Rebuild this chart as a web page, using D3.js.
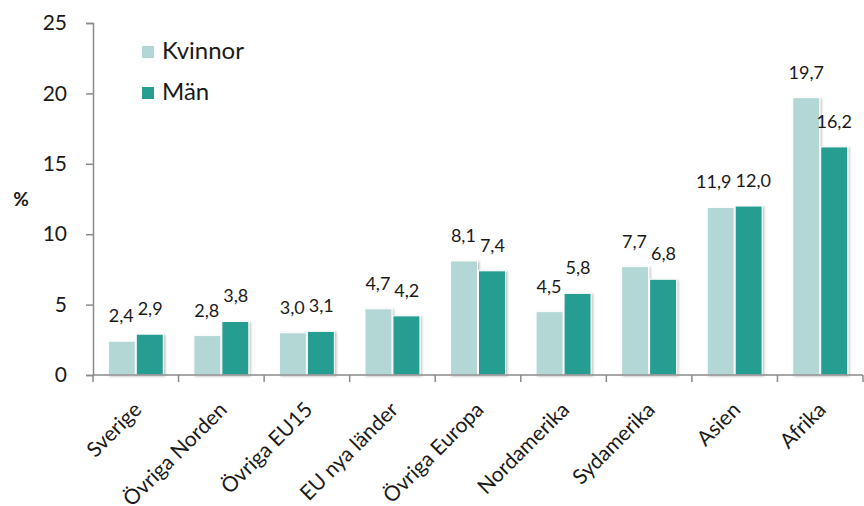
<!DOCTYPE html>
<html><head><meta charset="utf-8">
<script src="https://cdn.jsdelivr.net/npm/d3@7"></script>
<style>body{margin:0;background:#fff}svg{display:block}text{font-family:Lato,"Open Sans",sans-serif;fill:#1a1a1a}</style>
</head><body><svg id="c" width="864" height="506"></svg>
<script>
const categories = ["Sverige","Övriga Norden","Övriga EU15","EU nya länder","Övriga Europa","Nordamerika","Sydamerika","Asien","Afrika"];
const series = ["Kvinnor","Män"];
const kvinnor = [2.4,2.8,3.0,4.7,8.1,4.5,7.7,11.9,19.7];
const man = [2.9,3.8,3.1,4.2,7.4,5.8,6.8,12.0,16.2];
const yTicks = [0,5,10,15,20,25];
const colors = ["#b3d7d4","#289d91"];

const svg = d3.select("#c");
const defs = svg.append("defs");
const f = defs.append("filter").attr("id","sh").attr("x","-20%").attr("y","-20%").attr("width","150%").attr("height","150%");
f.append("feDropShadow").attr("dx",1.5).attr("dy",1).attr("stdDeviation",1.2).attr("flood-color","#000").attr("flood-opacity",0.25);

const x0 = d3.scaleBand().domain(categories).range([93,863]).paddingInner(0).paddingOuter(0);
const bw = x0.bandwidth();
const x1 = d3.scaleBand().domain(series).range([bw*0.173, bw*0.827]).padding(0);
const y = d3.scaleLinear().domain([0,25]).range([375,23]);
const data = [kvinnor, man];
const fmt = v => d3.format(".1f")(v).replace(".", ",");

const labelSel = [];
// bars
series.forEach((s, si) => {
  const g = svg.append("g");
  g.selectAll("rect").data(categories).enter().append("rect")
    .attr("x", c => x0(c) + x1(s) + 0.5)
    .attr("y", (c, i) => y(data[si][i]))
    .attr("width", x1.bandwidth() - 1)
    .attr("height", (c, i) => y(0) - y(data[si][i]))
    .attr("fill", colors[si])
    .attr("stroke", "#fff").attr("stroke-width", 1)
    .attr("filter", "url(#sh)");
  labelSel.push(g.selectAll("text").data(categories).enter().append("text")
    .attr("x", c => x0(c) + x1(s) + x1.bandwidth()/2)
    .attr("y", (c, i) => y(data[si][i]) - 19)
    .attr("text-anchor", "middle")
    .style("font-size", "18px")
    .text((c, i) => fmt(data[si][i])));
});
// nudge apart value labels that would collide
const kn = labelSel[0].nodes(), mn = labelSel[1].nodes();
categories.forEach((c, i) => {
  const a = kn[i].getBBox(), b = mn[i].getBBox();
  const vOverlap = a.y < b.y + b.height && b.y < a.y + a.height;
  const over = a.x + a.width + 4 - b.x;
  if (vOverlap && over > 0) {
    d3.select(kn[i]).attr("x", +kn[i].getAttribute("x") - over * 0.6);
    d3.select(mn[i]).attr("x", +mn[i].getAttribute("x") + over * 0.4);
  }
});

// y axis
const ya = svg.append("g").attr("transform","translate(93,0)")
  .call(d3.axisLeft(y).tickValues(yTicks).tickSize(7).tickPadding(19).tickFormat(d3.format("d")));
ya.select(".domain").attr("stroke","#8a8a8a").attr("stroke-width",1.5);
ya.selectAll(".tick line").attr("stroke","#8a8a8a").attr("stroke-width",1.5);
ya.selectAll(".tick text").style("font-size","21px").style("font-family","Lato,sans-serif").attr("fill","#1a1a1a");

// x axis
const xa = svg.append("g").attr("transform","translate(0,375)");
xa.append("line").attr("x1",93).attr("x2",863).attr("stroke","#8a8a8a").attr("stroke-width",1.5);
const bounds = categories.map(c => x0(c)).concat([x0(categories[categories.length-1]) + bw]);
xa.selectAll("line.t").data(bounds).enter().append("line").attr("class","t")
  .attr("x1", d => d).attr("x2", d => d).attr("y1",0).attr("y2",7)
  .attr("stroke","#8a8a8a").attr("stroke-width",1.5);
svg.append("g").selectAll("text").data(categories).enter().append("text")
  .attr("transform", c => `translate(${x0(c) + bw/2 + 7},${411}) rotate(-45)`)
  .attr("text-anchor","end")
  .style("font-size","21px")
  .text(c => c);

// y label
svg.append("text").attr("x",21).attr("y",206).attr("text-anchor","middle")
  .style("font-size","19px").style("font-weight","bold").text("%");

// legend
const lg = svg.append("g");
series.forEach((s, i) => {
  lg.append("rect").attr("x",142).attr("y",46 + i*41).attr("width",12).attr("height",12).attr("fill",colors[i]);
  lg.append("text").attr("x",162).attr("y",59 + i*41).style("font-size","24px").text(s);
});
</script></body></html>
